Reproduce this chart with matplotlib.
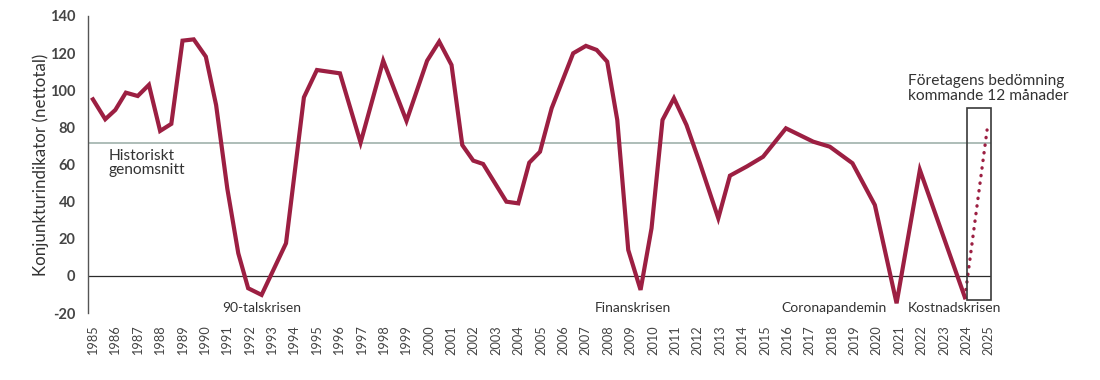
import matplotlib
matplotlib.use("Agg")
import matplotlib.pyplot as plt
from matplotlib.patches import Rectangle

plt.rcParams['font.family'] = ['Lato', 'DejaVu Sans']

# Data
years = [1985.0, 1985.55, 1986.0, 1986.47, 1987.0, 1987.5, 1988.0, 1988.5, 1989.0, 1989.5,
         1990.04, 1990.5, 1991.0, 1991.49, 1991.93, 1992.53, 1993.62, 1994.42, 1995.0, 1996.03,
         1996.95, 1997.96, 1999.0, 1999.92, 2000.46, 2001.01, 2001.49, 2001.98, 2002.42, 2003.46,
         2003.99, 2004.48, 2004.96, 2005.48, 2006.44, 2007.01, 2007.49, 2007.96, 2008.41, 2008.9,
         2009.45, 2009.94, 2010.43, 2010.94, 2011.5, 2012.1, 2012.92, 2013.44, 2014.2, 2014.92,
         2015.94, 2017.16, 2017.9, 2018.91, 2019.91, 2020.88, 2021.92, 2023.93]
values = [95.1, 84.4, 89.4, 98.7, 96.9, 102.9, 78.1, 81.9, 126.7, 127.4,
          118.1, 92.0, 47.0, 12.2, -6.6, -10.2, 17.6, 96.2, 110.9, 109.1,
          71.8, 115.9, 83.5, 115.9, 126.2, 113.6, 70.5, 62.1, 60.3, 40.0,
          39.1, 61.0, 66.9, 90.3, 119.9, 123.9, 121.7, 115.4, 84.0, 14.0,
          -7.5, 25.7, 84.0, 95.7, 81.3, 60.7, 31.1, 54.0, 59.0, 64.2,
          79.5, 72.3, 69.6, 60.7, 38.2, -14.7, 57.1, -11.5]
forecast_years = [2023.93, 2024.92]
forecast_values = [-11.5, 78.6]
historical_avg = 71.8
tick_years = list(range(1985, 2026))
tick_labels = [str(y) for y in tick_years]
yticks = [-20, 0, 20, 40, 60, 80, 100, 120, 140]
crises = [("90-talskrisen", 1992.55), ("Finanskrisen", 2009.1),
          ("Coronapandemin", 2018.1), ("Kostnadskrisen", 2023.45)]
box_x = (2024.02, 2025.09)
box_y = (-12.9, 90.5)

LINE = '#9c1f42'

fig = plt.figure(figsize=(11, 3.8), dpi=100)
ax = fig.add_axes([0.08, 0.176, 0.821, 0.782])
ax.set_xlim(1984.78, 2025.1)
ax.set_ylim(-20, 140)

ax.axhline(historical_avg, color='#a7b7b2', lw=1.3, zorder=1)
ax.axhline(0, color='#2b2b2b', lw=0.9, zorder=1)

ax.plot(years, values, color=LINE, lw=3.0, solid_joinstyle='miter', zorder=3)
ax.plot(forecast_years, forecast_values, color=LINE, lw=2.4,
        linestyle=(0, (0.1, 2.2)), dash_capstyle='round', zorder=3)

ax.add_patch(Rectangle((box_x[0], box_y[0]), box_x[1] - box_x[0], box_y[1] - box_y[0],
                       fill=False, edgecolor='#3a3a3a', lw=1.2, zorder=4, clip_on=False))

for s in ['top', 'right', 'bottom']:
    ax.spines[s].set_visible(False)
ax.spines['left'].set_color('#555555')
ax.spines['left'].set_linewidth(1.0)

ax.set_xticks(tick_years)
ax.set_xticklabels(tick_labels, rotation=90, fontsize=9.2, color='#444444')
ax.set_yticks(yticks)
ax.set_yticklabels([str(v) for v in yticks], fontsize=10.5, color='#454545', fontweight='bold')
ax.tick_params(axis='both', length=0)
ax.tick_params(axis='x', pad=9)
ax.tick_params(axis='y', pad=9)

ax.set_ylabel("Konjunkturindikator (nettotal)", fontsize=12.2, color='#333333')
ax.yaxis.set_label_coords(-0.043, 0.5)

ax.text(1985.7, 68.5, "Historiskt\ngenomsnitt", fontsize=11.2, color='#333333',
        va='top', ha='left', linespacing=1.05)
for name, x in crises:
    ax.text(x, -17.5, name, fontsize=10, color='#333333', ha='center', va='center')
ax.text(2021.38, 93, "Företagens bedömning\nkommande 12 månader", fontsize=11.2,
        color='#333333', ha='left', va='bottom', linespacing=1.1)

fig.savefig("out.png", dpi=100)
